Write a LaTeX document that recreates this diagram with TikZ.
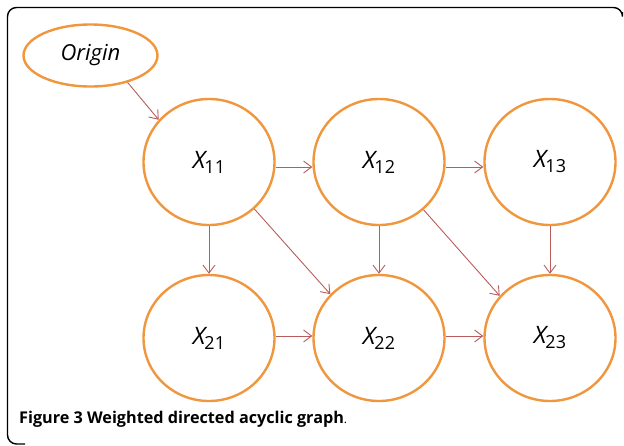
\documentclass[tikz,border=0pt]{standalone}
\usepackage{fontspec}
\setmainfont{Open Sans}
\usetikzlibrary{arrows.meta,shapes.geometric}
\definecolor{nodeorange}{HTML}{F0963C}
\definecolor{arrowred}{HTML}{B85C5C}
\newcommand{\xlab}[1]{{\fontsize{24}{24}\selectfont\itshape X}\kern-1pt\raisebox{-5pt}{\fontsize{18}{18}\selectfont #1}}
\begin{document}
\begin{tikzpicture}[x=1pt,y=-1pt,
  var/.style={ellipse,draw=nodeorange,line width=2.4pt,minimum width=131pt,minimum height=126pt,inner sep=0pt},
  orig/.style={ellipse,draw=nodeorange,line width=2.4pt,minimum width=134pt,minimum height=62pt,inner sep=0pt},
  arr/.style={draw=arrowred,line width=0.9pt,-{Straight Barb[length=8pt,width=12pt]}}]
\useasboundingbox (0,0) rectangle (624,445);
\draw[line width=1.4pt,rounded corners=9pt] (622.5,12) |- (7.5,7.5) -- (7.5,444) -- (25,444);
\node[orig] (origin) at (90.5,55.5) {\fontsize{22}{22}\selectfont\itshape Origin};
\node[var] (x11) at (209,162) {\xlab{11}};
\node[var] (x12) at (379,162) {\xlab{12}};
\node[var] (x13) at (550,162) {\xlab{13}};
\node[var] (x21) at (209,338) {\xlab{21}};
\node[var] (x22) at (379,338) {\xlab{22}};
\node[var] (x23) at (550,338) {\xlab{23}};
\draw[arr] (origin.-36) -- (x11.140);
\draw[arr] ([yshift=-5pt]x11.east) -- ([yshift=-5pt]x12.west);
\draw[arr] ([yshift=-5pt]x12.east) -- ([yshift=-5pt]x13.west);
\draw[arr] ([yshift=2pt]x21.east) -- ([yshift=2pt]x22.west);
\draw[arr] ([yshift=2pt]x22.east) -- ([yshift=2pt]x23.west);
\draw[arr] (x11.south) -- (x21.north);
\draw[arr] (x12.south) -- (x22.north);
\draw[arr] (x13.south) -- (x23.north);
\draw[arr] (x11.-46) -- (x22.138);
\draw[arr] (x12.-47) -- (x23.140);
\node[anchor=base west,inner sep=0pt] (cap) at (19,423) {\fontsize{16.2}{16.2}\selectfont\bfseries Figure 3 Weighted directed acyclic graph\mdseries\fontsize{12}{12}\selectfont.};
\end{tikzpicture}
\end{document}
